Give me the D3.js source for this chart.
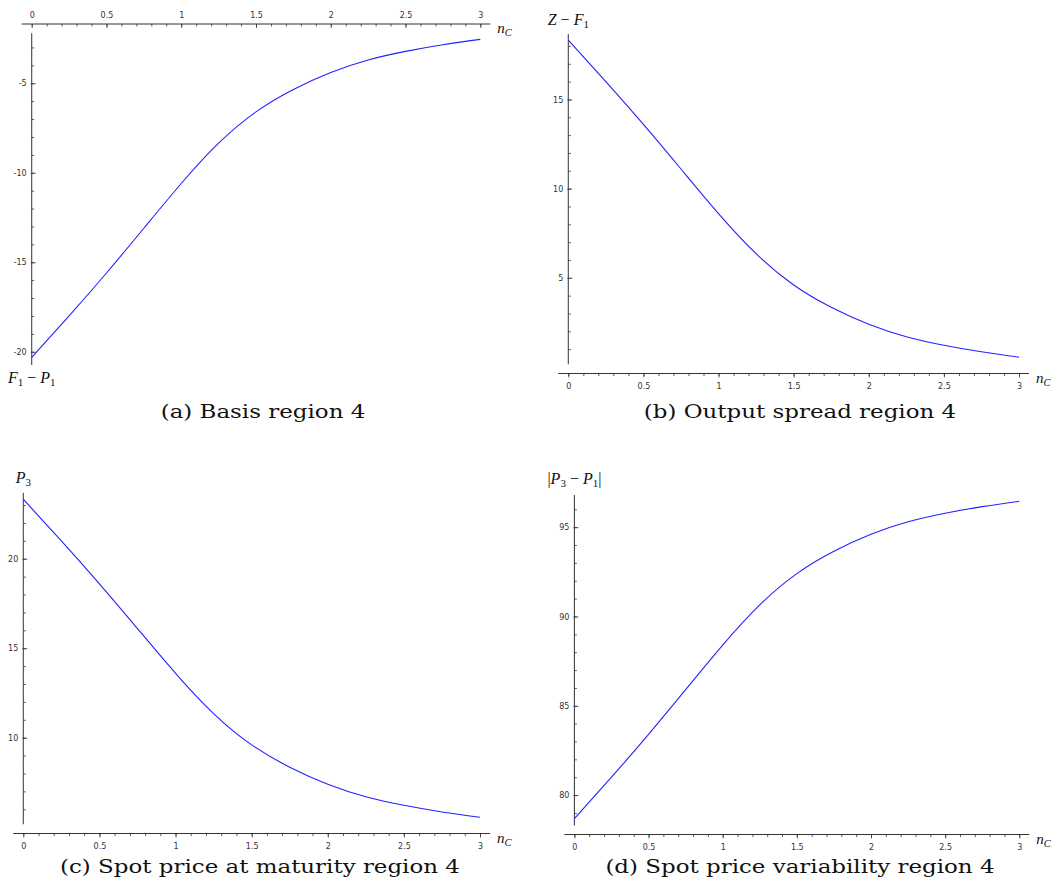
<!DOCTYPE html>
<html>
<head>
<meta charset="utf-8">
<script src="https://cdn.jsdelivr.net/npm/d3@7"></script>
<style>
  body { margin: 0; background: #fff; }
  .tick text { font-family: "DejaVu Sans", sans-serif; font-size: 8px; fill: #333; }
  .tick line { stroke: #333; stroke-width: 0.8; }
  .caption { font-family: "DejaVu Serif", serif; font-size: 18.5px; fill: #111; }
  .math { font-family: "Liberation Serif", serif; fill: #111; }
</style>
</head>
<body>
<div id="chart"></div>
<script>
// --- DATA ---
const nC = [0, 0.25, 0.5, 0.75, 1, 1.25, 1.5, 1.75, 2, 2.25, 2.5, 2.75, 3];
const basis = [-20.32, -18.00, -15.60, -13.10, -10.60, -8.35, -6.60, -5.35, -4.40, -3.70, -3.22, -2.85, -2.55];
const outputSpread = [18.32, 16.00, 13.60, 11.10, 8.60, 6.35, 4.60, 3.35, 2.40, 1.70, 1.22, 0.85, 0.55];
const spotPrice = [23.32, 21.00, 18.60, 16.10, 13.60, 11.35, 9.60, 8.35, 7.40, 6.70, 6.22, 5.85, 5.55];
const spotVariability = [78.68, 81.00, 83.40, 85.90, 88.40, 90.65, 92.40, 93.65, 94.60, 95.30, 95.78, 96.15, 96.45];

const xTicks = [0, 0.5, 1, 1.5, 2, 2.5, 3];
const basisTicks = [-20, -15, -10, -5];
const spreadTicks = [5, 10, 15];
const spotTicks = [10, 15, 20];
const variabilityTicks = [80, 85, 90, 95];

const captions = [
    "(a) Basis region 4",
    "(b) Output spread region 4",
    "(c) Spot price at maturity region 4",
    "(d) Spot price variability region 4"
];

// --- SETUP ---
const width = 1053, height = 890;
const svg = d3.select("#chart").append("svg")
    .attr("width", width)
    .attr("height", height);

svg.append("rect").attr("width", width).attr("height", height).attr("fill", "#fff");

// panel layout (pixel boxes + axis extents)
const panels = [
    { values: basis, yTicks: basisTicks, yExt: [-20.74, -2.21], x0: 31.7, x3: 480.3, yBot: 365, yTop: 33.3,
      axisY: 24, axisOnTop: true, caption: captions[0], capX: 263, capY: 418,
      label: [["F", "i"], ["1", "s"], [" − ", "n"], ["P", "i"], ["1", "s"]], labelY: 383 },
    { values: outputSpread, yTicks: spreadTicks, yExt: [0.15, 18.67], x0: 568.3, x3: 1019, yBot: 364.3, yTop: 34,
      axisY: 373.5, axisOnTop: false, caption: captions[1], capX: 800, capY: 418,
      label: [["Z", "i"], [" − ", "n"], ["F", "i"], ["1", "s"]], labelY: 25 },
    { values: spotPrice, yTicks: spotTicks, yExt: [5.16, 23.69], x0: 23.3, x3: 480, yBot: 824.3, yTop: 492.7,
      axisY: 833.5, axisOnTop: false, caption: captions[2], capX: 260, capY: 873,
      label: [["P", "i"], ["3", "s"]], labelY: 483 },
    { values: spotVariability, yTicks: variabilityTicks, yExt: [78.29, 96.8], x0: 574.4, x3: 1019.3, yBot: 825.6, yTop: 495,
      axisY: 834.5, axisOnTop: false, caption: captions[3], capX: 800, capY: 873,
      label: [["|", "n"], ["P", "i"], ["3", "s"], [" − ", "n"], ["P", "i"], ["1", "s"], ["|", "n"]], labelY: 484 }
];

panels.forEach(drawPanel);

function drawPanel(p) {
    const g = svg.append("g");

    const x = d3.scaleLinear().domain([0, 3]).range([p.x0, p.x3]);
    const y = d3.scaleLinear().domain(p.yExt).range([p.yBot, p.yTop]);

    // x axis line (runs a little past both ends)
    g.append("line")
        .attr("x1", p.x0 - 10).attr("x2", p.x3 + 10)
        .attr("y1", p.axisY).attr("y2", p.axisY)
        .attr("stroke", "#333").attr("stroke-width", 1);

    const xMajor = (p.axisOnTop ? d3.axisTop(x).tickSize(-4) : d3.axisBottom(x).tickSize(4))
        .tickValues(xTicks).tickPadding(6).tickFormat(d => String(d));
    const xMinor = (p.axisOnTop ? d3.axisTop(x).tickSize(-2.5) : d3.axisBottom(x).tickSize(2.5))
        .tickValues(d3.range(0, 3.001, 0.1)).tickFormat("");

    g.append("g").attr("transform", `translate(0,${p.axisY})`).call(xMinor)
        .call(s => s.select(".domain").remove());
    g.append("g").attr("transform", `translate(0,${p.axisY})`).call(xMajor)
        .call(s => s.select(".domain").remove());

    // y axis
    g.append("line")
        .attr("x1", p.x0).attr("x2", p.x0)
        .attr("y1", p.yBot).attr("y2", p.yTop)
        .attr("stroke", "#444").attr("stroke-width", 1.1);

    const yMinor = d3.axisLeft(y).tickSize(-2.5)
        .tickValues(d3.range(Math.ceil(p.yExt[0]), p.yExt[1], 1)).tickFormat("");
    const yMajor = d3.axisLeft(y).tickSize(-4).tickPadding(5)
        .tickValues(p.yTicks).tickFormat(d => String(d));

    g.append("g").attr("transform", `translate(${p.x0},0)`).call(yMinor)
        .call(s => s.select(".domain").remove());
    g.append("g").attr("transform", `translate(${p.x0},0)`).call(yMajor)
        .call(s => s.select(".domain").remove())
        .selectAll(".tick line").attr("x1", -1);

    // curve
    const line = d3.line()
        .x((d, i) => x(nC[i]))
        .y(d => y(d))
        .curve(d3.curveNatural);

    g.append("path")
        .datum(p.values)
        .attr("d", line)
        .attr("fill", "none")
        .attr("stroke", "#2222ff")
        .attr("stroke-width", 1.1);

    // n_C label at the end of x axis
    const nLab = g.append("text").attr("class", "math")
        .attr("x", p.x3 + 17).attr("y", p.axisY + 9);
    nLab.append("tspan").style("font-style", "italic").style("font-size", "15px").text("n");
    nLab.append("tspan").style("font-style", "italic").style("font-size", "10.5px")
        .attr("dy", 3).text("C");

    // y label
    const yl = g.append("text").attr("class", "math")
        .attr("x", p.x0).attr("y", p.labelY)
        .attr("text-anchor", "middle");
    let lowered = false;
    p.label.forEach(([t, kind]) => {
        const ts = yl.append("tspan").text(t);
        if (kind === "s") {
            ts.style("font-size", "11px").attr("dy", lowered ? 0 : 3);
            lowered = true;
        } else {
            ts.style("font-size", "16px").attr("dy", lowered ? -3 : 0);
            lowered = false;
            if (kind === "i") ts.style("font-style", "italic");
        }
    });

    // caption (Computer Modern is wider than DejaVu Serif, so stretch a bit)
    const cap = svg.append("text").attr("class", "caption")
        .attr("x", p.capX).attr("y", p.capY)
        .attr("text-anchor", "middle")
        .text(p.caption);
    const natural = cap.node().getComputedTextLength();
    cap.attr("textLength", natural * 1.24).attr("lengthAdjust", "spacingAndGlyphs");
}
</script>
</body>
</html>
